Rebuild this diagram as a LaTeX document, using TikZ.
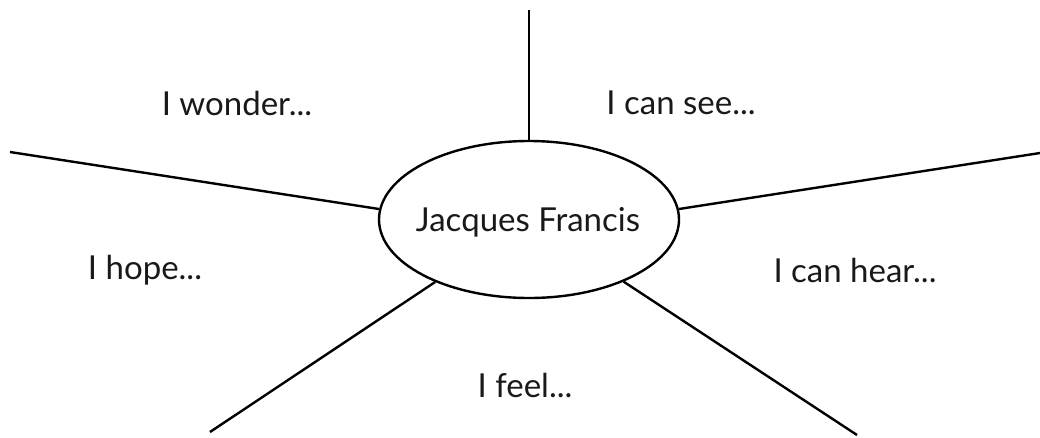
\documentclass[tikz,border=0pt]{standalone}
\usepackage{fontspec}
\setmainfont{Lato}
\usetikzlibrary{shapes.geometric}

\begin{document}
\begin{tikzpicture}[
    x=1pt, y=-1pt,
    font=\fontsize{33}{38}\selectfont,
    spoke/.style={draw=black, line width=2.4pt},
    hubnode/.style={draw=black, line width=2.4pt, ellipse, minimum width=300pt, minimum height=157pt, inner sep=0pt},
    prompt/.style={anchor=center, inner sep=0pt, text=black!90}
]
\useasboundingbox (0,0) rectangle (1040,437);

\node[hubnode] (hub) at (529,219.5) {};
\node[prompt] (hubtext) at (528,222) {Jacques Francis};

% free ends of the spokes
\coordinate (top) at (529,10);
\coordinate (left) at (10,152);
\coordinate (right) at (1040,153);
\coordinate (botleft) at (210,432);
\coordinate (botright) at (857,435);

\draw[spoke] (hub.north) -- (top);
\draw[spoke] (hub.176) -- (left);
\draw[spoke] (hub.4) -- (right);
\draw[spoke] (botleft) -- (hub);
\draw[spoke] (botright) -- (hub);

\node[prompt] (wonder) at (237,103) {I wonder...};
\node[prompt] (see) at (681,103) {I can see...};
\node[prompt] (hope) at (145,270) {I hope...};
\node[prompt] (hear) at (855,270) {I can hear...};
\node[prompt] (feel) at (525,385) {I feel...};
\end{tikzpicture}
\end{document}
